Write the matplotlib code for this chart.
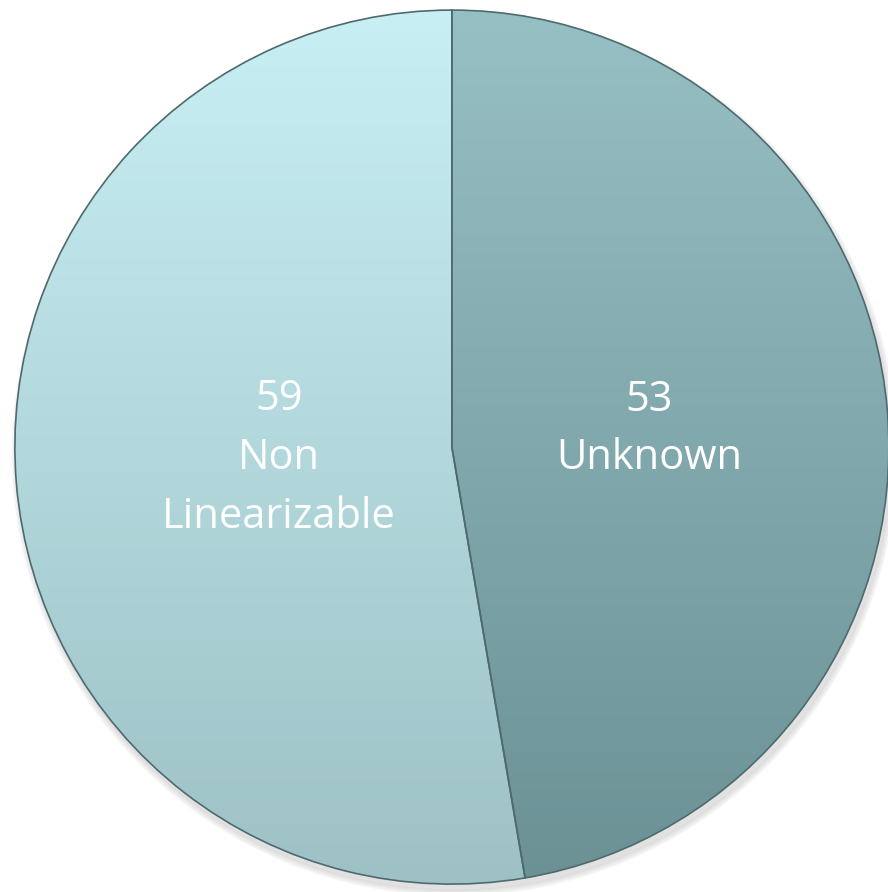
import matplotlib.pyplot as plt
import numpy as np
from matplotlib.colors import LinearSegmentedColormap

labels = ["Unknown", "Non\nLinearizable"]
counts = [53, 59]
top_colors = ["#97c0c4", "#c8eff4"]
bottom_colors = ["#6b9195", "#9dc1c5"]
label_pos = [(0.451, 0.041), (-0.396, -0.025)]

fig = plt.figure(figsize=(8.88, 8.92), dpi=100)
ax = fig.add_axes([0, 0, 1, 1])

# soft shadow under the pie
for k in range(5):
    sh = plt.Circle((0.006, -0.014), 1.0 + 0.003 * k, color="#000000", alpha=0.025, zorder=0)
    ax.add_patch(sh)

wedges, texts = ax.pie(counts, startangle=90, counterclock=False,
                       labels=[f"{c}\n{l}" for c, l in zip(counts, labels)],
                       labeldistance=0.45, radius=1.0,
                       wedgeprops=dict(linewidth=1.2, edgecolor="#4e6a6d"))

# vertical gradient fill clipped to each wedge
for w, c0, c1 in zip(wedges, top_colors, bottom_colors):
    w.set_facecolor("none")
    w.set_zorder(3)
    cmap = LinearSegmentedColormap.from_list("g", [c1, c0])
    grad = np.linspace(0, 1, 256).reshape(-1, 1)
    im = ax.imshow(grad, cmap=cmap, extent=(-1, 1, -1, 1), origin="lower",
                   aspect="auto", zorder=2)
    im.set_clip_path(w)

for t, p in zip(texts, label_pos):
    t.set_position(p)
    t.set_ha("center")
    t.set_va("center")
    t.set_color("white")
    t.set_fontsize(30)
    t.set_family(["Open Sans", "DejaVu Sans"])
    t.set_linespacing(1.52)
    t.set_zorder(5)

ax.set_xlim(-1.034, 0.998)
ax.set_ylim(-1.018, 1.023)
ax.set_aspect("equal")
ax.axis("off")

fig.savefig("out.png", dpi=100)
